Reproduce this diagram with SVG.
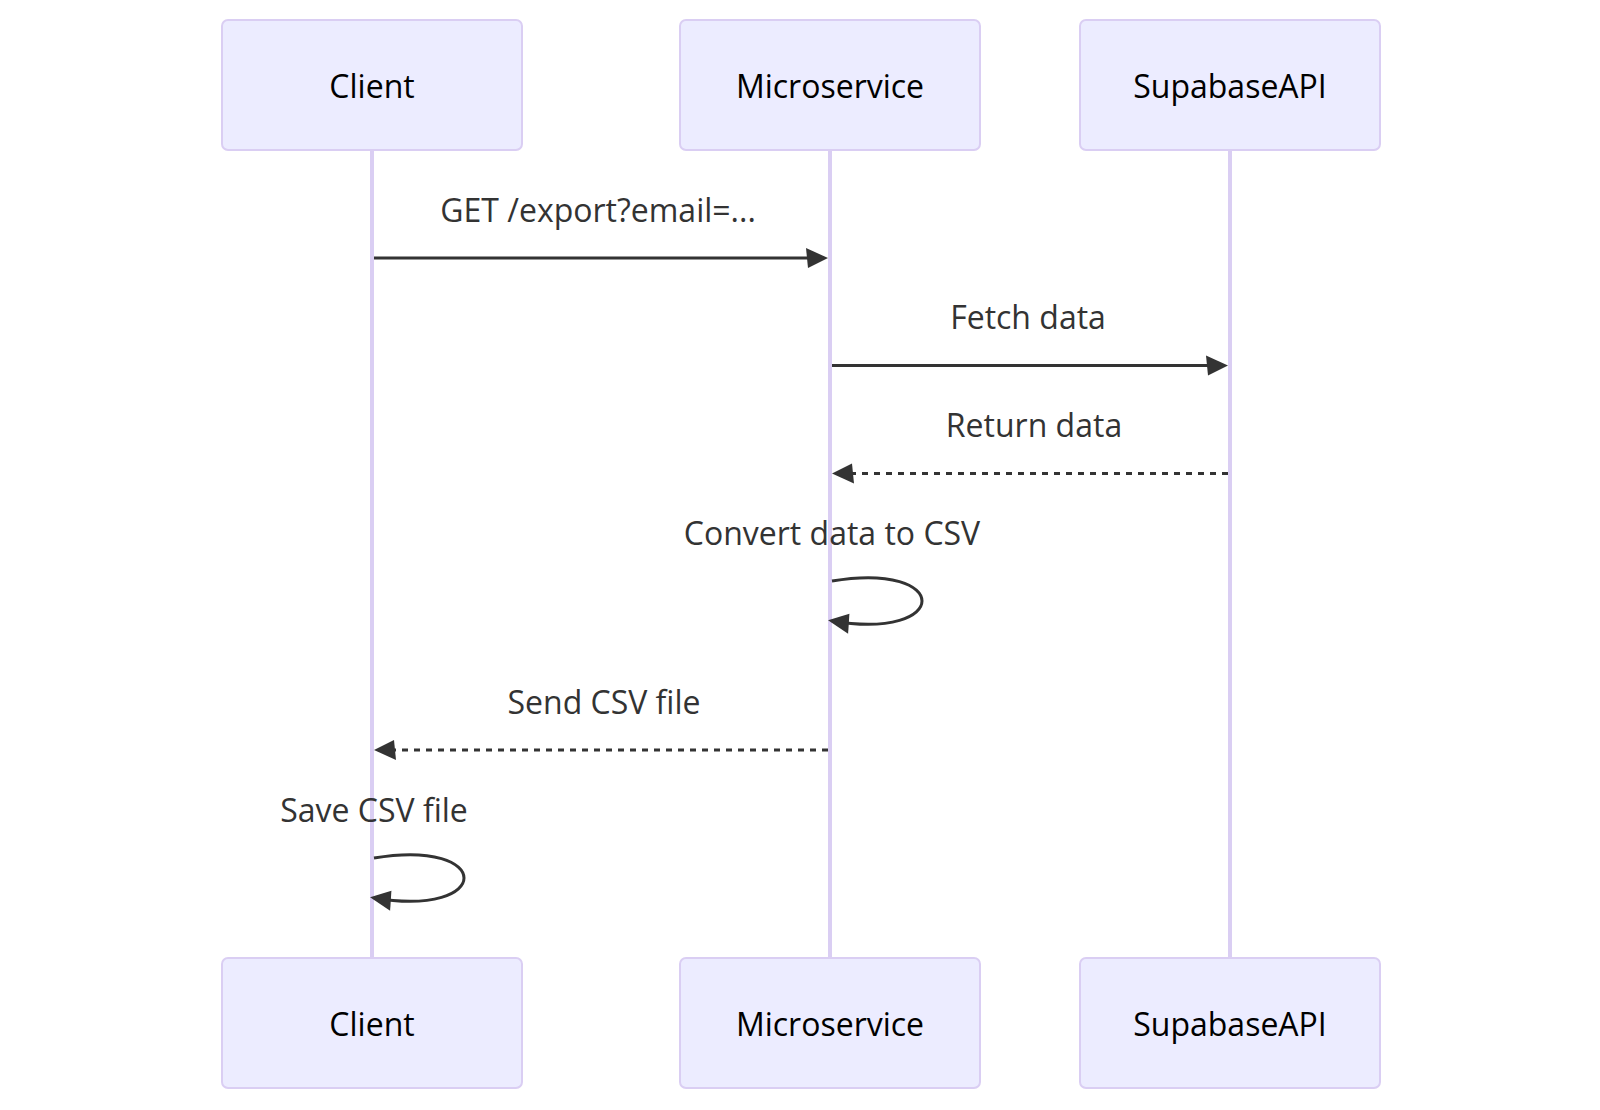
<svg xmlns="http://www.w3.org/2000/svg" width="1600" height="1110" viewBox="0 0 1600 1110">
<style>
.actor{fill:#ECECFF;stroke:#DACEF3;stroke-width:2}
.actor-text{font-family:"Open Sans","Noto Sans",sans-serif;font-size:32px;fill:#000;text-anchor:middle;dominant-baseline:central}
.lifeline{stroke:#DACEF3;stroke-width:4;fill:none}
.msg{stroke:#333;stroke-width:3;fill:none}
.dash{stroke-dasharray:6,6}
.msg-text{font-family:"Open Sans","Noto Sans",sans-serif;font-size:32px;fill:#333;text-anchor:middle}
</style>
<defs>
<marker id="arrowhead" markerUnits="userSpaceOnUse" markerWidth="26" markerHeight="24" refX="16" refY="10" orient="auto" viewBox="-3 -2 26 24">
<path d="M -2 0 L 20 10 L 0 20 z" fill="#333"/>
</marker>
</defs>
<g id="lifelines">
<line class="lifeline" x1="372" y1="150" x2="372" y2="958"/>
<line class="lifeline" x1="830" y1="150" x2="830" y2="958"/>
<line class="lifeline" x1="1230" y1="150" x2="1230" y2="958"/>
</g>
<g id="client-top"><rect class="actor" x="222" y="20" width="300" height="130" rx="6"/><text class="actor-text" x="372" y="85">Client</text></g>
<g id="microservice-top"><rect class="actor" x="680" y="20" width="300" height="130" rx="6"/><text class="actor-text" x="830" y="85">Microservice</text></g>
<g id="supabase-top"><rect class="actor" x="1080" y="20" width="300" height="130" rx="6"/><text class="actor-text" x="1230" y="85">SupabaseAPI</text></g>
<g id="client-bottom"><rect class="actor" x="222" y="958" width="300" height="130" rx="6"/><text class="actor-text" x="372" y="1023">Client</text></g>
<g id="microservice-bottom"><rect class="actor" x="680" y="958" width="300" height="130" rx="6"/><text class="actor-text" x="830" y="1023">Microservice</text></g>
<g id="supabase-bottom"><rect class="actor" x="1080" y="958" width="300" height="130" rx="6"/><text class="actor-text" x="1230" y="1023">SupabaseAPI</text></g>
<g id="connectors">
<text class="msg-text" x="598" y="222">GET /export?email=...</text>
<line class="msg" x1="374" y1="258" x2="824" y2="258" marker-end="url(#arrowhead)"/>
<text class="msg-text" x="1028" y="329">Fetch data</text>
<line class="msg" x1="832" y1="365.5" x2="1224" y2="365.5" marker-end="url(#arrowhead)"/>
<text class="msg-text" x="1034" y="437">Return data</text>
<line class="msg dash" x1="1228" y1="473.5" x2="836" y2="473.5" marker-end="url(#arrowhead)"/>
<text class="msg-text" x="832" y="545">Convert data to CSV</text>
<path class="msg" d="M 832,581 C 952,561 952,641 832,621" marker-end="url(#arrowhead)"/>
<text class="msg-text" x="604" y="714">Send CSV file</text>
<line class="msg dash" x1="828" y1="750" x2="378" y2="750" marker-end="url(#arrowhead)"/>
<text class="msg-text" x="374" y="822">Save CSV file</text>
<path class="msg" d="M 374,858 C 494,838 494,918 374,898" marker-end="url(#arrowhead)"/>
</g>
</svg>
